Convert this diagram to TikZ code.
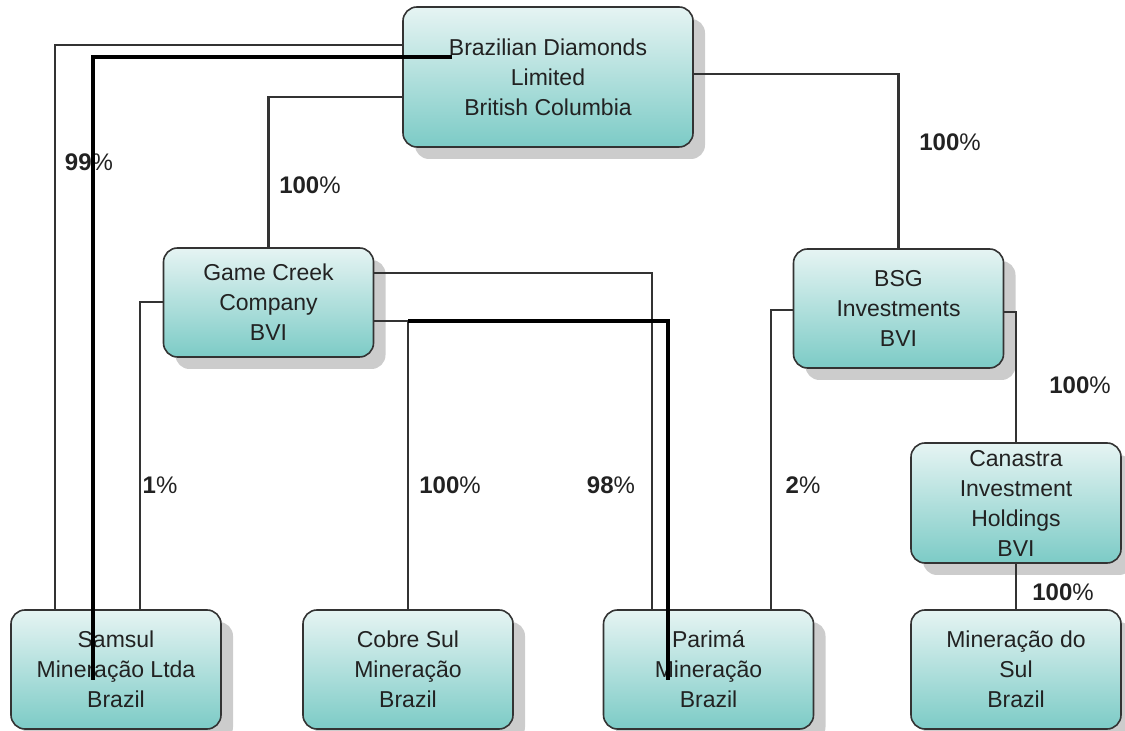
\documentclass[tikz,border=0pt]{standalone}
\usepackage{xcolor}
\usepackage{fontspec}
\setmainfont{Liberation Sans}
\usepackage{tikz}
\usetikzlibrary{shadows}

\definecolor{boxtop}{HTML}{E6F4F3}
\definecolor{boxbot}{HTML}{7CCBC6}
\definecolor{boxline}{HTML}{333333}
\definecolor{ink}{HTML}{222222}

\begin{document}
\begin{tikzpicture}[x=0.5pt, y=-0.5pt,
  entity/.style={draw=boxline, line width=0.8pt, rounded corners=7pt,
    top color=boxtop, bottom color=boxbot, inner sep=0pt, align=center,
    text=ink, font=\fontsize{11.5}{15}\selectfont,
    drop shadow={shadow xshift=6pt, shadow yshift=-6pt, fill=black!20, opacity=1}},
  small/.style={entity, minimum width=105pt, minimum height=59.5pt},
  share/.style={font=\fontsize{12}{14}\selectfont\bfseries, text=ink, inner sep=0pt},
  link/.style={draw=black!80, line width=1.4pt},
  heavy/.style={draw=black, line width=2pt}]
\useasboundingbox (0,0) rectangle (1125,731);

% companies
\node[entity, minimum width=145pt, minimum height=70pt] (bdl) at (548,77) {Brazilian Diamonds\\Limited\\British Columbia};
\node[small, minimum height=54.5pt] (gcc) at (268.5,302.5) {Game Creek\\Company\\BVI};
\node[small] (bsg) at (898.5,308.5) {BSG\\Investments\\BVI};
\node[small, minimum height=60pt] (cih) at (1016,503) {Canastra\\Investment\\Holdings\\BVI};
\node[small] (samsul) at (116,669.5) {Samsul\\Mineração Ltda\\Brazil};
\node[small] (cobre) at (408,669.5) {Cobre Sul\\Mineração\\Brazil};
\node[small] (parima) at (708.5,669.5) {Parimá\\Mineração\\Brazil};
\node[small] (mdsul) at (1016,669.5) {Mineração do\\Sul\\Brazil};

% holdings
\node[share] (p99) at (89,162) {99{\mdseries\%}};
\node[share] (p100a) at (310,185) {100{\mdseries\%}};
\node[share] (p100b) at (950,142) {100{\mdseries\%}};
\node[share] (p1) at (160,485) {1{\mdseries\%}};
\node[share] (p100c) at (450,485) {100{\mdseries\%}};
\node[share] (p98) at (611,485) {98{\mdseries\%}};
\node[share] (p2) at (803,485) {2{\mdseries\%}};
\node[share] (p100d) at (1080,385) {100{\mdseries\%}};
\node[share] (p100e) at (1063,592) {100{\mdseries\%}};

\draw[link] (bdl.west |- 0,45) -| (samsul.north -| 55,0);
\draw[link] (bdl.west |- 0,97) -| (gcc.north);
\draw[link] (bdl.east |- 0,74) -| (bsg.north);
\draw[link] (gcc.west |- 0,302) -| (samsul.north -| 140,0);
\draw[link] (gcc.east |- 0,273) -| (parima.north -| 652,0);
\draw[link] (gcc.east |- 0,321) -| (cobre.north);
\draw[link] (bsg.west |- 0,310) -| (parima.north -| 771,0);
\draw[link] (bsg.east |- 0,312) -| (cih.north);
\draw[link] (cih.south) -- (mdsul.north);

% thick overlays
\coordinate (hs1) at (452,57);
\coordinate (he1) at (93,680);
\coordinate (hs2) at (408,321);
\coordinate (he2) at (668,680);
\draw[heavy] (hs1) -| (he1);
\draw[heavy] (hs2) -| (he2);
\end{tikzpicture}
\end{document}
